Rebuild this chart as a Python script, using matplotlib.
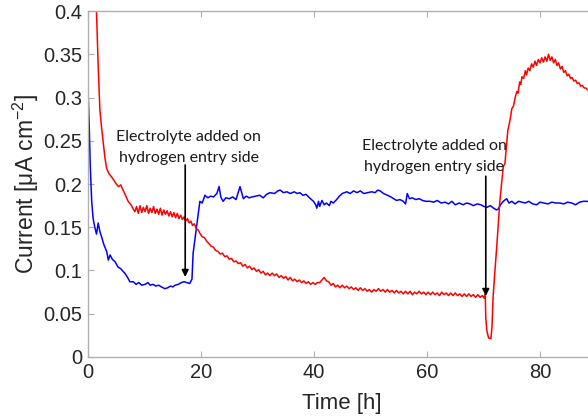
import numpy as np
import matplotlib
matplotlib.use("Agg")
import matplotlib.pyplot as plt

# blue trace: (time [h], current [uA cm^-2])
blue_pts = [
    (0, 0.309), (0.2, 0.27), (0.4, 0.22), (0.65, 0.18), (0.9, 0.16), (1.2, 0.15),
    (1.5, 0.142), (1.8, 0.155), (2.1, 0.145), (2.4, 0.139), (2.8, 0.13), (3.3, 0.122),
    (3.6, 0.112), (3.9, 0.118), (4.3, 0.113), (4.8, 0.110), (5.3, 0.104), (5.8, 0.102),
    (6.2, 0.099), (6.5, 0.097), (7.0, 0.092), (7.4, 0.087), (8.0, 0.087), (8.5, 0.084),
    (9.0, 0.086), (9.5, 0.083), (10.1, 0.084), (10.6, 0.086), (11.0, 0.083), (11.5, 0.084),
    (12.0, 0.082), (12.5, 0.083), (13.0, 0.081), (13.6, 0.079), (14.1, 0.080), (14.6, 0.082),
    (15.0, 0.081), (15.4, 0.083), (16.0, 0.084), (16.5, 0.086), (17.0, 0.087), (17.5, 0.086),
    (18.0, 0.085), (18.4, 0.090), (18.6, 0.12), (19.0, 0.14), (19.5, 0.165), (19.8, 0.18),
    (20.2, 0.178), (20.7, 0.187), (21.2, 0.184), (21.7, 0.186), (22.2, 0.185), (22.8, 0.189),
    (23.2, 0.197), (23.5, 0.185), (23.9, 0.180), (24.4, 0.184), (25.0, 0.183), (25.6, 0.185),
    (26.2, 0.182), (26.9, 0.197), (27.2, 0.190), (27.5, 0.183), (28.0, 0.186), (28.5, 0.184),
    (29.0, 0.185), (29.7, 0.186), (30.4, 0.187), (31.0, 0.184), (31.6, 0.188), (32.2, 0.190),
    (33.0, 0.189), (33.6, 0.192), (34.0, 0.193), (34.6, 0.190), (35.2, 0.191), (35.8, 0.189),
    (36.5, 0.191), (37.0, 0.189), (37.5, 0.190), (38.0, 0.187), (38.6, 0.188), (39.2, 0.184),
    (39.9, 0.180), (40.3, 0.176), (40.5, 0.172), (40.8, 0.180), (41.0, 0.174), (41.4, 0.181),
    (41.8, 0.176), (42.2, 0.178), (42.7, 0.175), (43.0, 0.180), (43.4, 0.178), (44.0, 0.182),
    (44.5, 0.186), (45.0, 0.189), (45.8, 0.191), (46.4, 0.189), (47.0, 0.192), (47.6, 0.190),
    (48.2, 0.192), (48.8, 0.189), (49.5, 0.190), (50.2, 0.191), (50.8, 0.190), (51.3, 0.193),
    (51.7, 0.192), (52.3, 0.189), (53.0, 0.187), (53.6, 0.185), (54.1, 0.183), (54.6, 0.181),
    (55.2, 0.182), (55.8, 0.180), (56.2, 0.177), (56.5, 0.189), (56.9, 0.183), (57.4, 0.184),
    (58.0, 0.182), (58.6, 0.183), (59.2, 0.181), (59.8, 0.180), (60.5, 0.180), (61.2, 0.179),
    (61.8, 0.181), (62.5, 0.178), (63.2, 0.179), (63.8, 0.177), (64.4, 0.180), (65.0, 0.176),
    (65.7, 0.178), (66.4, 0.176), (67.0, 0.178), (67.6, 0.177), (68.2, 0.175), (68.9, 0.177),
    (69.5, 0.176), (70.1, 0.174), (70.6, 0.173), (71.2, 0.175), (71.8, 0.172), (72.3, 0.170),
    (72.6, 0.171), (73.0, 0.176), (73.5, 0.180), (74.1, 0.183), (74.5, 0.178), (75.0, 0.180),
    (75.6, 0.177), (76.2, 0.180), (76.8, 0.179), (77.4, 0.178), (78.0, 0.180), (78.7, 0.177),
    (79.4, 0.176), (80.0, 0.179), (80.7, 0.178), (81.4, 0.177), (82.1, 0.179), (82.8, 0.178),
    (83.5, 0.178), (84.2, 0.177), (84.9, 0.179), (85.6, 0.178), (86.3, 0.176), (87.0, 0.179),
    (87.7, 0.180), (88.3, 0.180), (89.0, 0.179), (90.0, 0.178),
]

# red trace: (time [h], current [uA cm^-2])
red_pts = [
    (1.4, 0.42), (1.8, 0.336), (2.1, 0.286), (2.4, 0.265), (2.7, 0.247), (3.0, 0.230),
    (3.3, 0.218), (3.7, 0.212), (4.2, 0.208), (4.7, 0.203), (5.0, 0.200), (5.4, 0.197),
    (5.8, 0.199), (6.2, 0.193), (6.7, 0.186), (7.1, 0.180), (7.6, 0.176), (8.0, 0.171),
    (8.3, 0.168), (8.6, 0.174), (8.9, 0.166), (9.2, 0.175), (9.5, 0.167), (9.8, 0.173),
    (10.1, 0.168), (10.4, 0.175), (10.7, 0.166), (11.0, 0.172), (11.3, 0.167), (11.6, 0.174),
    (11.9, 0.166), (12.2, 0.171), (12.5, 0.165), (12.8, 0.172), (13.1, 0.164), (13.4, 0.170),
    (13.7, 0.165), (14.0, 0.169), (14.3, 0.163), (14.6, 0.168), (14.9, 0.162), (15.2, 0.167),
    (15.5, 0.161), (15.8, 0.166), (16.1, 0.160), (16.4, 0.164), (16.7, 0.159), (17.0, 0.162),
    (17.3, 0.157), (17.6, 0.160), (17.9, 0.155), (18.2, 0.157), (18.5, 0.152), (18.8, 0.154),
    (19.2, 0.148), (19.5, 0.147), (19.8, 0.143), (20.2, 0.139), (20.6, 0.138), (21.0, 0.134),
    (21.4, 0.131), (21.8, 0.128), (22.2, 0.127), (22.6, 0.123), (23.0, 0.122), (23.4, 0.119),
    (23.8, 0.120), (24.2, 0.116), (24.6, 0.117), (25.0, 0.113), (25.4, 0.114), (25.8, 0.110),
    (26.2, 0.111), (26.6, 0.108), (27.0, 0.109), (27.4, 0.105), (27.8, 0.107), (28.2, 0.103),
    (28.6, 0.105), (29.0, 0.101), (29.4, 0.103), (29.8, 0.099), (30.2, 0.101), (30.6, 0.097),
    (31.0, 0.099), (31.4, 0.095), (31.8, 0.097), (32.2, 0.094), (32.6, 0.097), (33.0, 0.094),
    (33.4, 0.096), (33.8, 0.092), (34.2, 0.094), (34.6, 0.091), (35.0, 0.093), (35.4, 0.089),
    (35.8, 0.092), (36.2, 0.088), (36.6, 0.090), (37.0, 0.087), (37.4, 0.089), (37.8, 0.086),
    (38.2, 0.088), (38.6, 0.085), (39.0, 0.087), (39.4, 0.084), (39.8, 0.086), (40.2, 0.084),
    (40.6, 0.086), (41.0, 0.086), (41.4, 0.089), (41.8, 0.092), (42.2, 0.088), (42.6, 0.087),
    (43.0, 0.083), (43.4, 0.085), (43.8, 0.081), (44.2, 0.083), (44.6, 0.080), (45.0, 0.083),
    (45.4, 0.080), (45.8, 0.082), (46.2, 0.079), (46.6, 0.081), (47.0, 0.078), (47.4, 0.080),
    (47.8, 0.077), (48.2, 0.080), (48.6, 0.077), (49.0, 0.079), (49.4, 0.076), (49.8, 0.078),
    (50.2, 0.075), (50.6, 0.078), (51.0, 0.076), (51.4, 0.079), (51.8, 0.076), (52.2, 0.078),
    (52.6, 0.075), (53.0, 0.078), (53.4, 0.075), (53.8, 0.077), (54.2, 0.074), (54.6, 0.077),
    (55.0, 0.074), (55.4, 0.076), (55.8, 0.073), (56.2, 0.076), (56.6, 0.073), (57.0, 0.076),
    (57.4, 0.072), (57.8, 0.075), (58.2, 0.073), (58.6, 0.076), (59.0, 0.073), (59.4, 0.075),
    (59.8, 0.072), (60.2, 0.075), (60.6, 0.072), (61.0, 0.075), (61.4, 0.072), (61.8, 0.074),
    (62.2, 0.071), (62.6, 0.075), (63.0, 0.072), (63.4, 0.074), (63.8, 0.071), (64.2, 0.074),
    (64.6, 0.071), (65.0, 0.074), (65.4, 0.071), (65.8, 0.073), (66.2, 0.070), (66.6, 0.073),
    (67.0, 0.070), (67.4, 0.073), (67.8, 0.070), (68.2, 0.072), (68.6, 0.069), (69.0, 0.072),
    (69.4, 0.069), (69.8, 0.071), (70.1, 0.068), (70.3, 0.073), (70.4, 0.045), (70.6, 0.030),
    (70.9, 0.022), (71.3, 0.021), (71.5, 0.035), (71.7, 0.070), (72.0, 0.098), (72.3, 0.124),
    (72.6, 0.153), (72.9, 0.181), (73.2, 0.200), (73.5, 0.220), (73.8, 0.224), (74.0, 0.240),
    (74.3, 0.262), (74.5, 0.268), (74.7, 0.274), (75.0, 0.287), (75.3, 0.290), (75.6, 0.300),
    (75.9, 0.307), (76.1, 0.305), (76.4, 0.318), (76.6, 0.315), (76.8, 0.324), (77.1, 0.322),
    (77.4, 0.331), (77.6, 0.326), (77.9, 0.334), (78.2, 0.331), (78.5, 0.339), (78.8, 0.335),
    (79.1, 0.342), (79.4, 0.337), (79.7, 0.344), (80.0, 0.340), (80.3, 0.346), (80.6, 0.341),
    (80.9, 0.347), (81.2, 0.342), (81.5, 0.350), (81.8, 0.343), (82.1, 0.347), (82.4, 0.340),
    (82.7, 0.344), (83.0, 0.337), (83.3, 0.340), (83.6, 0.333), (83.9, 0.336), (84.2, 0.329),
    (84.5, 0.331), (84.8, 0.325), (85.1, 0.327), (85.4, 0.322), (85.7, 0.323), (86.0, 0.319),
    (86.3, 0.320), (86.6, 0.316), (86.9, 0.317), (87.2, 0.313), (87.5, 0.314), (87.8, 0.311),
    (88.1, 0.311), (88.4, 0.309), (88.8, 0.308), (89.5, 0.306), (90.0, 0.305),
]

note_text = "Electrolyte added on\nhydrogen entry side"
# (time of addition, arrow tail value, arrow head value, text x, text y)
notes = [
    (17.2, 0.222, 0.0925, 17.8, 0.222),
    (70.4, 0.209, 0.0705, 61.3, 0.212),
]

xticks = [0, 20, 40, 60, 80]
yticks = [0, 0.05, 0.1, 0.15, 0.2, 0.25, 0.3, 0.35, 0.4]
ytick_labels = ["0", "0.05", "0.1", "0.15", "0.2", "0.25", "0.3", "0.35", "0.4"]

plt.rcParams['font.family'] = ['Liberation Sans', 'DejaVu Sans']

fig = plt.figure(figsize=(5.88, 4.17), dpi=100)
# axes run past the right edge of the picture, as in the cropped original
ax = fig.add_axes([0.1497, 0.1439, 0.8648, 0.8297])

bt, bv = np.array(blue_pts).T
rt, rv = np.array(red_pts).T
ax.plot(bt, bv, color='#0000ff', lw=1.1)
ax.plot(rt, rv, color='#ff0000', lw=1.1)

for x0, y_tail, y_head, tx, ty in notes:
    ax.annotate('', xy=(x0, y_head), xytext=(x0, y_tail),
                arrowprops=dict(arrowstyle='-|>', color='black', lw=1.2,
                                mutation_scale=10, shrinkA=0, shrinkB=0))
    ax.text(tx, ty, note_text, ha='center', va='bottom', fontsize=11.5,
            family=['Lato', 'DejaVu Sans'], color='#1a1a1a', linespacing=1.6)

ax.set_xlim(0, 90)
ax.set_ylim(0, 0.4)
ax.set_xticks(xticks)
ax.set_yticks(yticks)
ax.set_yticklabels(ytick_labels)
ax.tick_params(direction='in', top=True, right=True, length=4, width=0.8,
               color='#b0b0b0', labelsize=14.5, labelcolor='#262626', pad=4)
for s in ax.spines.values():
    s.set_color('#b0b0b0')
    s.set_linewidth(1.0)

ax.set_xlabel('Time [h]', fontsize=16, color='#262626', labelpad=8)
ax.set_ylabel(r'Current [$\mathregular{\mu}$A cm$^{\mathregular{-2}}$]', fontsize=16.5,
              color='#262626', labelpad=2)

fig.savefig('out.png', dpi=100)
